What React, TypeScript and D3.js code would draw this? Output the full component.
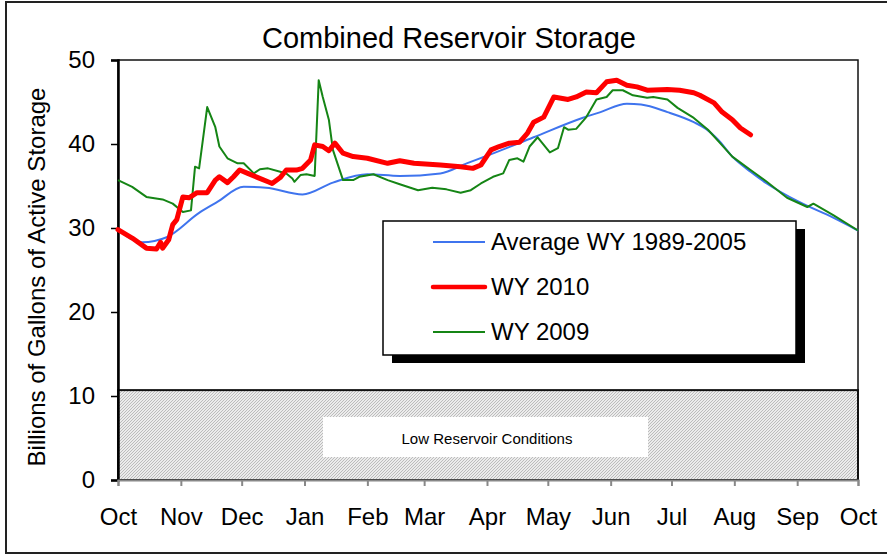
import React, { useEffect, useRef } from "react";
import * as d3 from "d3";

// day of water year (0 = Oct 1) and storage in billions of gallons
const avgDays = [0, 12, 24, 40, 49, 62, 73, 91, 106, 123, 139, 159, 172, 182, 205, 229, 238, 251, 258, 271, 284, 290, 296, 303, 312, 320, 336, 353, 365];
const avgVals = [29.8, 28.3, 28.9, 31.8, 33.1, 34.9, 34.8, 34.0, 35.4, 36.4, 36.2, 36.5, 37.7, 38.6, 40.8, 43.1, 43.8, 44.8, 44.7, 43.8, 42.6, 41.8, 40.5, 38.5, 36.7, 35.3, 33.1, 31.2, 29.7];

const wy2010Days = [0, 7, 14, 19, 21, 22, 25, 27, 29, 32, 35, 39, 44, 48, 50, 54, 57, 60, 64, 69, 74, 76, 80, 83, 88, 91, 95, 97, 101, 104, 107, 111, 116, 123, 133, 139, 146, 159, 169, 175, 179, 184, 188, 193, 198, 202, 205, 210, 215, 222, 226, 231, 236, 241, 246, 251, 256, 261, 271, 277, 284, 287, 294, 298, 303, 307, 312];
const wy2010Vals = [29.8, 28.8, 27.6, 27.5, 28.3, 27.6, 28.6, 30.4, 31.0, 33.7, 33.6, 34.2, 34.2, 35.7, 36.1, 35.4, 36.1, 36.9, 36.5, 36.0, 35.5, 35.3, 36.0, 36.9, 36.9, 37.1, 38.1, 39.9, 39.7, 39.2, 40.1, 38.9, 38.5, 38.3, 37.7, 38.0, 37.7, 37.5, 37.3, 37.1, 37.5, 39.3, 39.7, 40.1, 40.2, 41.3, 42.6, 43.2, 45.6, 45.3, 45.6, 46.2, 46.1, 47.4, 47.6, 47.0, 46.8, 46.4, 46.5, 46.4, 46.1, 45.8, 44.9, 43.8, 42.9, 41.9, 41.1];

const wy2009Days = [0, 7, 14, 22, 27, 32, 36, 38, 40, 44, 48, 50, 54, 59, 62, 67, 70, 74, 80, 83, 86, 87, 90, 93, 97, 99, 101, 104, 106, 111, 116, 119, 126, 133, 139, 148, 155, 162, 169, 174, 179, 185, 190, 193, 197, 200, 203, 207, 213, 217, 220, 222, 226, 231, 236, 241, 244, 249, 254, 261, 264, 271, 276, 284, 291, 297, 303, 312, 320, 330, 340, 343, 353, 365];
const wy2009Vals = [35.7, 34.9, 33.7, 33.4, 32.9, 31.9, 32.1, 37.3, 37.1, 44.4, 42.0, 39.7, 38.3, 37.7, 37.7, 36.5, 37.0, 37.1, 36.7, 36.5, 35.9, 35.5, 36.3, 36.4, 36.2, 47.6, 45.6, 42.9, 39.3, 35.7, 35.7, 36.1, 36.4, 35.7, 35.2, 34.5, 34.8, 34.6, 34.2, 34.5, 35.3, 36.1, 36.5, 38.1, 38.3, 37.9, 39.7, 40.8, 39.0, 39.5, 42.0, 41.7, 41.8, 43.2, 45.3, 45.6, 46.4, 46.4, 45.8, 45.5, 45.6, 45.3, 44.3, 43.1, 41.7, 40.1, 38.5, 36.9, 35.5, 33.6, 32.5, 32.9, 31.5, 29.7];

const monthLabels = ["Oct", "Nov", "Dec", "Jan", "Feb", "Mar", "Apr", "May", "Jun", "Jul", "Aug", "Sep", "Oct"];
const monthStartDays = [0, 31, 61, 92, 123, 151, 182, 212, 243, 273, 304, 335, 365];
const yTicks = [0, 10, 20, 30, 40, 50];
const lowLevel = 10.7;

const seriesNames = ["Average WY 1989-2005", "WY 2010", "WY 2009"];
const seriesColors = ["#3f74ee", "#ff0000", "#158515"];
const seriesWidths = [2, 5, 2];

const W = 887;
const H = 555;
const font = "Liberation Sans, Arial, sans-serif";

export default function App() {
  const ref = useRef<SVGSVGElement>(null);

  useEffect(() => {
    document.body.style.margin = "0";
    const svg = d3.select(ref.current);
    svg.selectAll("*").remove();

    const left = 118, right = 858, top = 60, bottom = 480;
    const x = d3.scaleLinear().domain([0, 365]).range([left, right]);
    const y = d3.scaleLinear().domain([0, 50]).range([bottom, top]);

    const defs = svg.append("defs");
    const pat = defs.append("pattern")
      .attr("id", "hatch")
      .attr("patternUnits", "userSpaceOnUse")
      .attr("width", 3)
      .attr("height", 3);
    pat.append("rect").attr("width", 3).attr("height", 3).attr("fill", "#ececec");
    pat.append("path").attr("d", "M0,3 L3,0 M-1,1 L1,-1 M2,4 L4,2").attr("stroke", "#a8a8a8").attr("stroke-width", 0.7);

    // outer border
    svg.append("rect")
      .attr("x", 6).attr("y", 2).attr("width", W + 10).attr("height", 551)
      .attr("fill", "white").attr("stroke", "#222").attr("stroke-width", 2);

    // title
    svg.append("text")
      .attr("x", 449).attr("y", 48)
      .attr("text-anchor", "middle")
      .attr("font-family", font).attr("font-size", 29)
      .attr("textLength", 374).attr("lengthAdjust", "spacingAndGlyphs")
      .text("Combined Reservoir Storage");

    // plot frame
    svg.append("rect")
      .attr("x", left).attr("y", top).attr("width", right - left).attr("height", bottom - top)
      .attr("fill", "white").attr("stroke", "#111").attr("stroke-width", 1.5);

    // low reservoir band
    svg.append("rect")
      .attr("x", x(0)).attr("y", y(lowLevel)).attr("width", x(365) - x(0)).attr("height", y(0) - y(lowLevel))
      .attr("fill", "url(#hatch)").attr("stroke", "#111").attr("stroke-width", 2);
    svg.append("rect")
      .attr("x", 323).attr("y", 417).attr("width", 325).attr("height", 40)
      .attr("fill", "white");
    svg.append("text")
      .attr("x", 487).attr("y", 444)
      .attr("text-anchor", "middle")
      .attr("font-family", font).attr("font-size", 15)
      .text("Low Reservoir Conditions");

    // y axis
    const yAxis = svg.append("g")
      .attr("transform", `translate(${left},0)`)
      .call(d3.axisLeft(y).tickValues(yTicks).tickSize(7).tickPadding(16).tickFormat(d3.format("d")));
    yAxis.select(".domain").attr("stroke", "#000").attr("stroke-width", 2.5);
    yAxis.selectAll(".tick line").attr("stroke", "#000").attr("stroke-width", 1.5);
    yAxis.selectAll("text").attr("font-family", font).attr("font-size", 24).attr("fill", "#000");

    // x axis
    const xAxis = svg.append("g")
      .attr("transform", `translate(0,${bottom})`)
      .call(d3.axisBottom(x).tickValues(monthStartDays).tickSize(6).tickPadding(22)
        .tickFormat((_, i) => monthLabels[i]));
    xAxis.select(".domain").attr("stroke", "#888").attr("stroke-width", 2);
    xAxis.selectAll(".tick line").attr("stroke", "#888").attr("stroke-width", 2);
    xAxis.selectAll("text").attr("font-family", font).attr("font-size", 24).attr("fill", "#000");

    // y label
    svg.append("text")
      .attr("transform", `translate(45,277) rotate(-90)`)
      .attr("text-anchor", "middle")
      .attr("font-family", font).attr("font-size", 24)
      .text("Billions of Gallons of Active Storage");

    const lineLin = d3.line<[number, number]>().x((d) => x(d[0])).y((d) => y(d[1]));
    const lineSmooth = d3.line<[number, number]>().x((d) => x(d[0])).y((d) => y(d[1])).curve(d3.curveMonotoneX);

    const avg = avgDays.map((d, i) => [d, avgVals[i]] as [number, number]);
    const w10 = wy2010Days.map((d, i) => [d, wy2010Vals[i]] as [number, number]);
    const w09 = wy2009Days.map((d, i) => [d, wy2009Vals[i]] as [number, number]);

    svg.append("path").attr("d", lineSmooth(avg)).attr("fill", "none")
      .attr("stroke", seriesColors[0]).attr("stroke-width", seriesWidths[0]);
    svg.append("path").attr("d", lineLin(w09)).attr("fill", "none")
      .attr("stroke", seriesColors[2]).attr("stroke-width", seriesWidths[2]).attr("stroke-linejoin", "round");
    svg.append("path").attr("d", lineLin(w10)).attr("fill", "none")
      .attr("stroke", seriesColors[1]).attr("stroke-width", seriesWidths[1])
      .attr("stroke-linejoin", "round").attr("stroke-linecap", "round");

    // legend
    const lg = svg.append("g").attr("transform", "translate(383,221)");
    lg.append("rect").attr("x", 9).attr("y", 8).attr("width", 413).attr("height", 134).attr("fill", "#000");
    lg.append("rect").attr("width", 413).attr("height", 134).attr("fill", "white").attr("stroke", "#000").attr("stroke-width", 1.5);
    seriesNames.forEach((name, i) => {
      const cy = 21 + i * 45;
      lg.append("line").attr("x1", 50).attr("x2", 102).attr("y1", cy).attr("y2", cy)
        .attr("stroke", seriesColors[i]).attr("stroke-width", i === 1 ? 4.5 : 2).attr("stroke-linecap", i === 1 ? "round" : "butt");
      lg.append("text").attr("x", 108).attr("y", cy + 8)
        .attr("font-family", font).attr("font-size", 24)
        .text(name);
    });
  }, []);

  return <svg ref={ref} width={W} height={H} style={{ display: "block" }} />;
}
